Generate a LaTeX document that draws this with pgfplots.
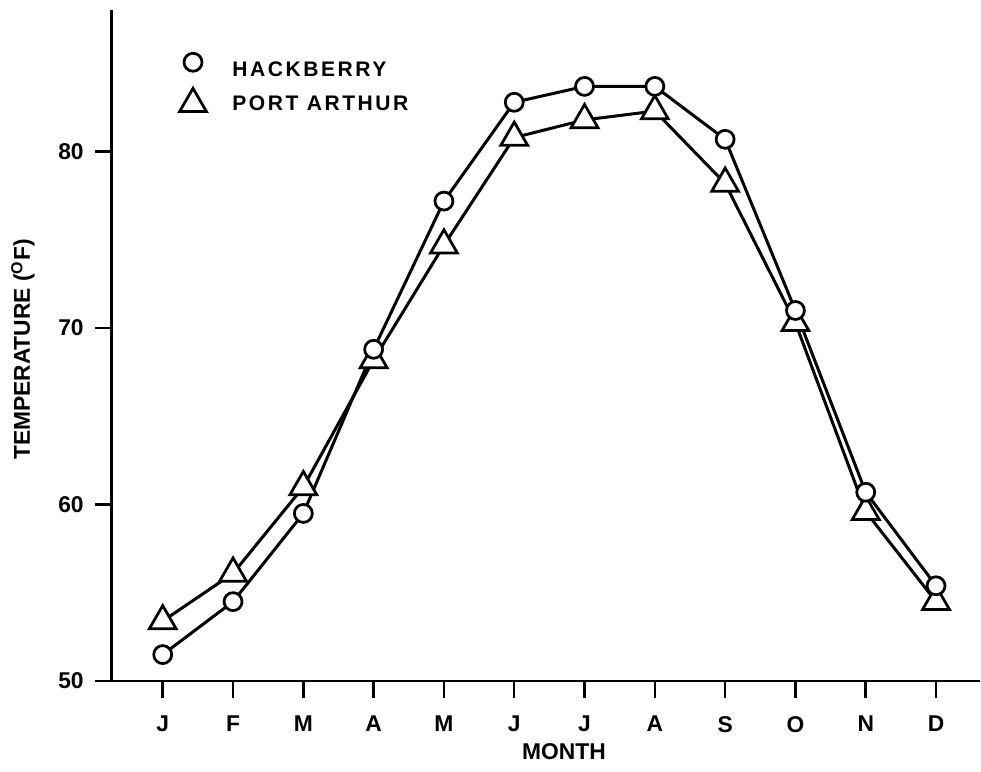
\documentclass[border=0pt]{standalone}
\usepackage{fontspec}
\setmainfont{Liberation Sans}
\newfontfamily\legfont{Liberation Sans}[LetterSpace=12]
\usepackage{pgfplots}
\pgfplotsset{compat=1.18}

\begin{document}
\begin{tikzpicture}
\begin{axis}[
  scale only axis,
  width=173.8mm, height=134.4mm,
  xmin=-0.724, xmax=11.62,
  ymin=50, ymax=88.03,
  axis lines=left,
  axis line style={-, line width=0.55mm},
  xtick={0,...,11},
  xticklabels={J,F,M,A,M,J,J,A,S,O,N,D},
  ytick={50,60,70,80},
  tick align=outside,
  major tick length=3.4mm,
  tick style={line width=0.5mm, black},
  /pgf/number format/assume math mode=true,
  ticklabel style={font=\fontsize{13}{15}\selectfont\bfseries},
  xticklabel style={yshift=-2.4mm},
  yticklabel style={xshift=-1mm},
  xlabel={MONTH},
  ylabel={TEMPERATURE (\textsuperscript{O}F)},
  label style={font=\fontsize{13}{15}\selectfont\bfseries},
  xlabel style={at={(axis description cs:0.521,0)}, anchor=center, yshift=-14.2mm},
  ylabel style={at={(axis description cs:0,0.494)}, anchor=center, yshift=17.8mm},
  legend style={at={(axis description cs:0.0777,0.936)}, anchor=north west,
    draw=none, fill=none, inner sep=0pt, row sep=1.9mm,
    font=\fontsize{12}{14}\selectfont\legfont\bfseries,
    nodes={inner sep=0pt},
    /tikz/every odd column/.append style={column sep=5.2mm}},
  legend cell align=left,
  legend image code/.code={\draw[#1] plot coordinates {(0mm,0.45em)};},
]
\addlegendimage{only marks, mark=*, mark size=1.8mm, mark options={fill=white, draw=black, line width=0.55mm}}
\addlegendentry{HACKBERRY}
\addlegendimage{only marks, mark=triangle*, mark size=3.1mm, yshift=-1.4mm, mark options={fill=white, draw=black, line width=0.55mm}}
\addlegendentry{PORT ARTHUR}

\addplot[black, line width=0.6mm, mark=triangle*, mark size=3.1mm,
  mark options={fill=white, line width=0.55mm}, forget plot] coordinates {
  (0,53.4) (1,56.1) (2,61.0) (3,68.2) (4,74.7) (5,80.8)
  (6,81.8) (7,82.3) (8,78.2) (9,70.3) (10,59.6) (11,54.5)
};
\addplot[black, line width=0.6mm, mark=*, mark size=1.8mm,
  mark options={fill=white, line width=0.55mm}, forget plot] coordinates {
  (0,51.5) (1,54.5) (2,59.5) (3,68.8) (4,77.2) (5,82.8)
  (6,83.7) (7,83.7) (8,80.7) (9,71.0) (10,60.7) (11,55.4)
};
\coordinate (O) at (rel axis cs:0,0);
\end{axis}
\path (O) ++(-22.4mm,-18.2mm) rectangle ++(196.2mm,154.6mm);
\end{tikzpicture}
\end{document}
